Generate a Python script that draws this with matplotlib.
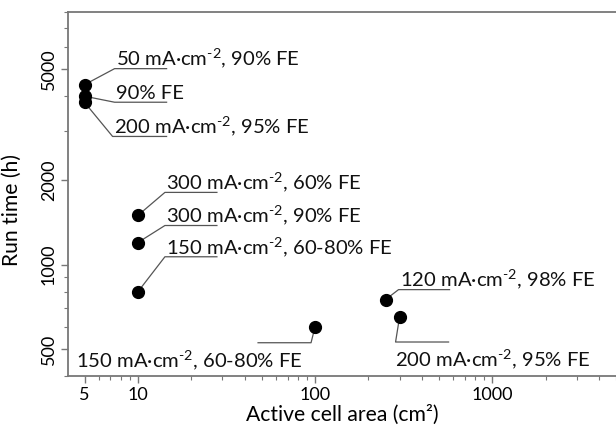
import matplotlib
matplotlib.use('Agg')
import matplotlib.pyplot as plt
import matplotlib.transforms as mtrans
from matplotlib.ticker import LogLocator, FixedLocator, NullFormatter, FixedFormatter

plt.rcParams['font.family'] = ['Lato', 'DejaVu Sans']
plt.rcParams['mathtext.default'] = 'regular'

# data
area = [5, 5, 5, 10, 10, 10, 100, 250, 300]          # cm^2
run_time = [4400, 4000, 3800, 1500, 1200, 800, 600, 750, 650]   # h
sup = '$^{\u2010' + '2}$'
labels = [
    '50 mA·cm' + sup + ', 90% FE',
    '90% FE',
    '200 mA·cm' + sup + ', 95% FE',
    '300 mA·cm' + sup + ', 60% FE',
    '300 mA·cm' + sup + ', 90% FE',
    '150 mA·cm' + sup + ', 60-80% FE',
    '150 mA·cm' + sup + ', 60-80% FE',
    '120 mA·cm' + sup + ', 98% FE',
    '200 mA·cm' + sup + ', 95% FE',
]
x_ticks = [5, 10, 100, 1000]
y_ticks = [500, 1000, 2000, 5000]

# leader layout in pixels relative to the point: elbow (dx, dy), underline length, text offset
leaders = [
    ((30, 16), 52, None),
    ((30, -6), 52, None),
    ((28, -34), 54, None),
    ((27, 23), 52, None),
    ((27, 17), 52, None),
    ((27, 35), 52, None),
    ((-4, -16), -53, (-239, -40)),
    ((13, 10), 51, None),
    ((-4, -25), 53, (-5, -49)),
]

fig = plt.figure(figsize=(6.16, 4.34), dpi=100)
ax = fig.add_axes([68/616, 58/434, 548/616, 364/434])
ax.set_xscale('log')
ax.set_yscale('log')
ax.set_xlim(4.03, 5000)
ax.set_ylim(400, 8000)

spine_col = '#777777'
for s in ['left', 'bottom', 'top']:
    ax.spines[s].set_color(spine_col)
    ax.spines[s].set_linewidth(1.3)
ax.spines['right'].set_visible(False)

ax.xaxis.set_major_locator(FixedLocator(x_ticks))
ax.xaxis.set_major_formatter(FixedFormatter([str(v) for v in x_ticks]))
ax.xaxis.set_minor_locator(LogLocator(base=10, subs=range(2, 10), numticks=20))
ax.xaxis.set_minor_formatter(NullFormatter())
ax.yaxis.set_major_locator(FixedLocator(y_ticks))
ax.yaxis.set_major_formatter(FixedFormatter([str(v) for v in y_ticks]))
ax.yaxis.set_minor_locator(LogLocator(base=10, subs=range(2, 10), numticks=20))
ax.yaxis.set_minor_formatter(NullFormatter())
ax.tick_params(which='major', direction='out', length=5, width=1, color=spine_col,
               labelsize=13, pad=3)
ax.tick_params(which='minor', direction='out', length=3, width=0.8, color=spine_col)
for lab in ax.get_yticklabels():
    lab.set_rotation(90)
    lab.set_va('center')

ax.set_xlabel('Active cell area (cm²)', fontsize=15.2, labelpad=1)
ax.set_ylabel('Run time (h)', fontsize=15.2)
ax.yaxis.set_label_coords(-0.085, 0.456)

line_col = '#555555'
for x, y, lab, (elbow, ulen, toff) in zip(area, run_time, labels, leaders):
    trans = fig.dpi_scale_trans + mtrans.ScaledTranslation(x, y, ax.transData)
    ex, ey = elbow
    ax.plot([0, ex / 100, (ex + ulen) / 100], [0, ey / 100, ey / 100],
            color=line_col, lw=0.9, transform=trans, zorder=2, clip_on=False)
    if toff is None:
        tx, ty = (ex + 1) / 100, (ey + 3) / 100
    else:
        tx, ty = toff[0] / 100, toff[1] / 100
    ax.text(tx, ty, lab, transform=trans, ha='left', va='baseline',
            fontsize=14.6, color='#111111')

ax.plot(area, run_time, 'o', color='black', markersize=8.5, zorder=3, clip_on=False)

fig.savefig('out.png', dpi=100)
